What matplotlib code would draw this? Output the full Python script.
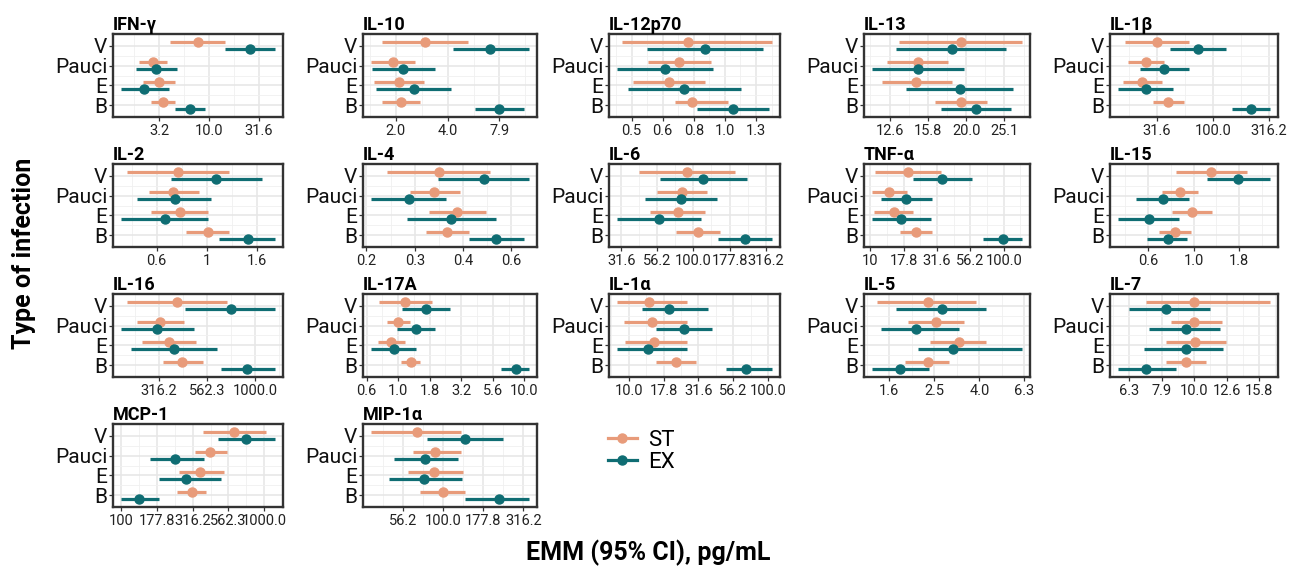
import numpy as np
import matplotlib
matplotlib.use("Agg")
import matplotlib.pyplot as plt
from matplotlib.lines import Line2D

plt.rcParams['font.family'] = ['Roboto', 'DejaVu Sans']

groups = ["V", "Pauci", "E", "B"]
cytokines = ["IFN-γ", "IL-10", "IL-12p70", "IL-13", "IL-1β",
             "IL-2", "IL-4", "IL-6", "TNF-α", "IL-15",
             "IL-16", "IL-17A", "IL-1α", "IL-5", "IL-7",
             "MCP-1", "MIP-1α"]

# estimated marginal means and 95% CI, order V, Pauci, E, B
st_mean = {
    "IFN-γ": [7.7, 2.76, 3.16, 3.47], "IL-10": [2.95, 1.91, 2.07, 2.14],
    "IL-12p70": [0.76, 0.713, 0.66, 0.785], "IL-13": [19.3, 14.9, 14.8, 19.3],
    "IL-1β": [31.6, 25.5, 23.6, 40.2], "IL-2": [0.766, 0.736, 0.778, 1.006],
    "IL-4": [0.334, 0.324, 0.382, 0.355], "IL-6": [90.2, 83.3, 77.8, 106.8],
    "TNF-α": [19.1, 13.8, 15.0, 21.8], "IL-15": [1.24, 0.841, 0.98, 0.787],
    "IL-16": [393, 323, 356, 419], "IL-17A": [1.13, 1.0, 0.883, 1.26],
    "IL-1α": [13.9, 14.6, 15.1, 22.0], "IL-5": [2.34, 2.56, 3.23, 2.34],
    "IL-7": [10.0, 10.0, 10.07, 9.46], "MCP-1": [619, 415, 354, 311],
    "MIP-1α": [68.1, 88.3, 87.1, 100],
}
st_low = {
    "IFN-γ": [4.1, 2.0, 2.2, 2.63], "IL-10": [1.66, 1.43, 1.49, 1.66],
    "IL-12p70": [0.465, 0.567, 0.506, 0.689], "IL-13": [13.3, 12.4, 12.0, 16.5],
    "IL-1β": [16.5, 17.7, 15.8, 29.2], "IL-2": [0.479, 0.586, 0.601, 0.826],
    "IL-4": [0.231, 0.273, 0.311, 0.305], "IL-6": [41.9, 56.0, 50.1, 75.7],
    "TNF-α": [10.8, 10.2, 10.6, 16.8], "IL-15": [0.797, 0.671, 0.759, 0.644],
    "IL-16": [216, 243, 258, 333], "IL-17A": [0.703, 0.814, 0.689, 1.05],
    "IL-1α": [8.2, 9.2, 9.4, 15.8], "IL-5": [1.39, 1.92, 2.41, 1.86],
    "IL-7": [7.1, 8.5, 8.2, 8.2], "MCP-1": [371, 327, 253, 245],
    "MIP-1α": [35.3, 64.5, 60.2, 72],
}
st_high = {
    "IFN-γ": [14.6, 3.8, 4.55, 4.55], "IL-10": [5.24, 2.56, 2.89, 2.74],
    "IL-12p70": [1.42, 0.90, 0.86, 1.02], "IL-13": [28.0, 17.9, 18.3, 22.6],
    "IL-1β": [61, 36.4, 35.2, 55], "IL-2": [1.22, 0.927, 1.01, 1.22],
    "IL-4": [0.483, 0.388, 0.469, 0.414], "IL-6": [194, 125, 120, 152],
    "TNF-α": [34.1, 18.8, 21.0, 28.8], "IL-15": [1.95, 1.06, 1.26, 0.968],
    "IL-16": [713, 427, 494, 535], "IL-17A": [1.85, 1.24, 1.13, 1.49],
    "IL-1α": [26.0, 26.0, 26.0, 30.6], "IL-5": [3.86, 3.39, 4.27, 2.92],
    "IL-7": [17.2, 12.2, 12.5, 10.9], "MCP-1": [1033, 545, 527, 395],
    "MIP-1α": [128, 128, 133, 137],
}
ex_mean = {
    "IFN-γ": [25.8, 2.95, 2.24, 6.4], "IL-10": [7.03, 2.20, 2.54, 7.94],
    "IL-12p70": [0.865, 0.64, 0.74, 1.06], "IL-13": [18.3, 14.9, 19.2, 21.2],
    "IL-1β": [74, 36.9, 25.2, 220], "IL-2": [1.09, 0.743, 0.679, 1.45],
    "IL-4": [0.461, 0.271, 0.366, 0.505], "IL-6": [115.6, 82.0, 57.5, 228],
    "TNF-α": [34.7, 18.6, 17.1, 98.9], "IL-15": [1.76, 0.676, 0.567, 0.72],
    "IL-16": [747, 311, 378, 910], "IL-17A": [1.67, 1.38, 0.921, 8.55],
    "IL-1α": [19.3, 25.1, 13.7, 69.7], "IL-5": [2.72, 2.08, 3.04, 1.77],
    "IL-7": [8.2, 9.46, 9.46, 7.1], "MCP-1": [750, 237, 287, 135],
    "MIP-1α": [137, 77.0, 76.0, 221],
}
ex_low = {
    "IFN-γ": [14.6, 1.83, 1.30, 4.55], "IL-10": [4.26, 1.45, 1.53, 5.74],
    "IL-12p70": [0.56, 0.449, 0.488, 0.815], "IL-13": [13.1, 11.3, 13.9, 17.2],
    "IL-1β": [41.3, 22.6, 14.2, 147.5], "IL-2": [0.72, 0.525, 0.454, 1.12],
    "IL-4": [0.333, 0.206, 0.267, 0.414], "IL-6": [58.7, 46.6, 29.5, 147],
    "TNF-α": [20.7, 12.0, 10.3, 70.3], "IL-15": [1.18, 0.487, 0.384, 0.557],
    "IL-16": [433, 201, 227, 663], "IL-17A": [1.08, 0.98, 0.609, 6.56],
    "IL-1α": [12.4, 15.8, 8.2, 50.1], "IL-5": [1.70, 1.46, 2.12, 1.32],
    "IL-7": [6.3, 7.26, 7.0, 5.8], "MCP-1": [479, 159, 184, 100],
    "MIP-1α": [79.2, 49.0, 45.8, 137],
}
ex_high = {
    "IFN-γ": [46.5, 4.8, 3.97, 9.2], "IL-10": [11.8, 3.36, 4.18, 11.0],
    "IL-12p70": [1.33, 0.914, 1.13, 1.39], "IL-13": [25.4, 19.7, 26.5, 26.1],
    "IL-1β": [131, 61, 44.5, 325], "IL-2": [1.65, 1.04, 1.01, 1.87],
    "IL-4": [0.638, 0.353, 0.502, 0.615], "IL-6": [233, 145, 113, 351],
    "TNF-α": [58.2, 28.8, 28.5, 138], "IL-15": [2.63, 0.948, 0.831, 0.921],
    "IL-16": [1271, 481, 631, 1262], "IL-17A": [2.57, 1.97, 1.38, 10.9],
    "IL-1α": [37.3, 39.8, 26.0, 107], "IL-5": [4.27, 3.23, 6.18, 2.37],
    "IL-7": [11.2, 12.0, 12.3, 8.8], "MCP-1": [1191, 383, 495, 184],
    "MIP-1α": [237, 124, 131, 343],
}

# log10 break positions and the labels printed under them
tick_exps = {
    "IFN-γ": [0.5, 1.0, 1.5], "IL-10": [0.3, 0.6, 0.9],
    "IL-12p70": [-0.3, -0.2, -0.1, 0.0, 0.1], "IL-13": [1.1, 1.2, 1.3, 1.4],
    "IL-1β": [1.5, 2.0, 2.5], "IL-2": [-0.2, 0.0, 0.2],
    "IL-4": [-0.7, -0.55, -0.4, -0.25], "IL-6": [1.5, 1.75, 2.0, 2.25, 2.5],
    "TNF-α": [1.0, 1.25, 1.5, 1.75, 2.0], "IL-15": [-0.25, 0.0, 0.25],
    "IL-16": [2.5, 2.75, 3.0], "IL-17A": [-0.25, 0.0, 0.25, 0.5, 0.75, 1.0],
    "IL-1α": [1.0, 1.25, 1.5, 1.75, 2.0], "IL-5": [0.2, 0.4, 0.6, 0.8],
    "IL-7": [0.8, 0.9, 1.0, 1.1, 1.2], "MCP-1": [2.0, 2.25, 2.5, 2.75, 3.0],
    "MIP-1α": [1.75, 2.0, 2.25, 2.5],
}
tick_labels = {
    "IFN-γ": ["3.2", "10.0", "31.6"], "IL-10": ["2.0", "4.0", "7.9"],
    "IL-12p70": ["0.5", "0.6", "0.8", "1.0", "1.3"],
    "IL-13": ["12.6", "15.8", "20.0", "25.1"],
    "IL-1β": ["31.6", "100.0", "316.2"], "IL-2": ["0.6", "1", "1.6"],
    "IL-4": ["0.2", "0.3", "0.4", "0.6"],
    "IL-6": ["31.6", "56.2", "100.0", "177.8", "316.2"],
    "TNF-α": ["10", "17.8", "31.6", "56.2", "100.0"],
    "IL-15": ["0.6", "1.0", "1.8"], "IL-16": ["316.2", "562.3", "1000.0"],
    "IL-17A": ["0.6", "1.0", "1.8", "3.2", "5.6", "10.0"],
    "IL-1α": ["10.0", "17.8", "31.6", "56.2", "100.0"],
    "IL-5": ["1.6", "2.5", "4.0", "6.3"],
    "IL-7": ["6.3", "7.9", "10.0", "12.6", "15.8"],
    "MCP-1": ["100", "177.8", "316.2", "562.3", "1000.0"],
    "MIP-1α": ["56.2", "100.0", "177.8", "316.2"],
}

ST_COL = "#E89B7A"
EX_COL = "#0F6D73"
W, H = 1294, 570

fig = plt.figure(figsize=(W / 100, H / 100), dpi=100)

col_left = [113, 363, 609, 864, 1110]
col_width = [170, 174, 171, 166, 168]
row_top = [34, 164, 294, 424]
panel_h = 83

ypos = np.arange(len(groups))[::-1]
dodge = 0.18

for i, name in enumerate(cytokines):
    r, c = divmod(i, 5)
    ax = fig.add_axes([col_left[c] / W, 1 - (row_top[r] + panel_h) / H,
                       col_width[c] / W, panel_h / H])
    ax.set_xscale("log")

    for mean, lo, hi, off, col in [
        (st_mean[name], st_low[name], st_high[name], dodge, ST_COL),
        (ex_mean[name], ex_low[name], ex_high[name], -dodge, EX_COL),
    ]:
        ax.hlines(ypos + off, lo, hi, color=col, lw=2.3, zorder=3)
        ax.plot(mean, ypos + off, "o", color=col, ms=6.5, zorder=4)

    # x limits: data range expanded 5% in log space
    lmin = np.log10(min(st_low[name] + ex_low[name]))
    lmax = np.log10(max(st_high[name] + ex_high[name]))
    pad = 0.05 * (lmax - lmin)
    xlim = (10 ** (lmin - pad), 10 ** (lmax + pad))

    exps = tick_exps[name]
    step = exps[1] - exps[0]
    minor = np.arange(exps[0] - step / 2, exps[-1] + step, step)
    ax.set_xticks([10 ** e for e in exps])
    ax.set_xticklabels(tick_labels[name])
    ax.set_xticks(10 ** minor, minor=True)
    ax.set_xticklabels([], minor=True)
    ax.set_xlim(xlim)

    ax.set_yticks(ypos)
    ax.set_yticklabels(groups)
    ax.set_yticks(ypos[:-1] - 0.5, minor=True)
    ax.set_ylim(-0.6, 3.6)

    ax.set_axisbelow(True)
    ax.grid(which="major", color="#E6E6E6", lw=1.1)
    ax.grid(which="minor", color="#F0F0F0", lw=0.6)
    for s in ax.spines.values():
        s.set_linewidth(1.7)
        s.set_color("#333333")
    ax.tick_params(which="major", length=3, width=0.9, color="#333333", pad=2)
    ax.tick_params(which="minor", length=0)
    ax.tick_params(axis="x", labelsize=10.5, labelcolor="#222222")
    ax.tick_params(axis="y", labelsize=15, labelcolor="#111111", pad=1)
    ax.set_title(name, loc="left", fontsize=13, fontweight="bold", pad=3)

handles = [
    Line2D([0], [0], color=ST_COL, lw=2.3, marker="o", ms=6.5),
    Line2D([0], [0], color=EX_COL, lw=2.3, marker="o", ms=6.5),
]
fig.legend(handles, ["ST", "EX"], loc="upper left",
           bbox_to_anchor=(608 / W, 1 - 430 / H), frameon=False,
           fontsize=16, handlelength=1.3, handletextpad=0.5,
           labelspacing=0.05, borderaxespad=0, borderpad=0)

fig.text(648 / W, 1 - 553 / H, "EMM (95% CI), pg/mL", ha="center", va="center",
         fontsize=18, fontweight="bold")
fig.text(24 / W, 1 - 253 / H, "Type of infection", ha="center", va="center",
         rotation=90, fontsize=18, fontweight="bold")

fig.savefig("out.png", dpi=100)
